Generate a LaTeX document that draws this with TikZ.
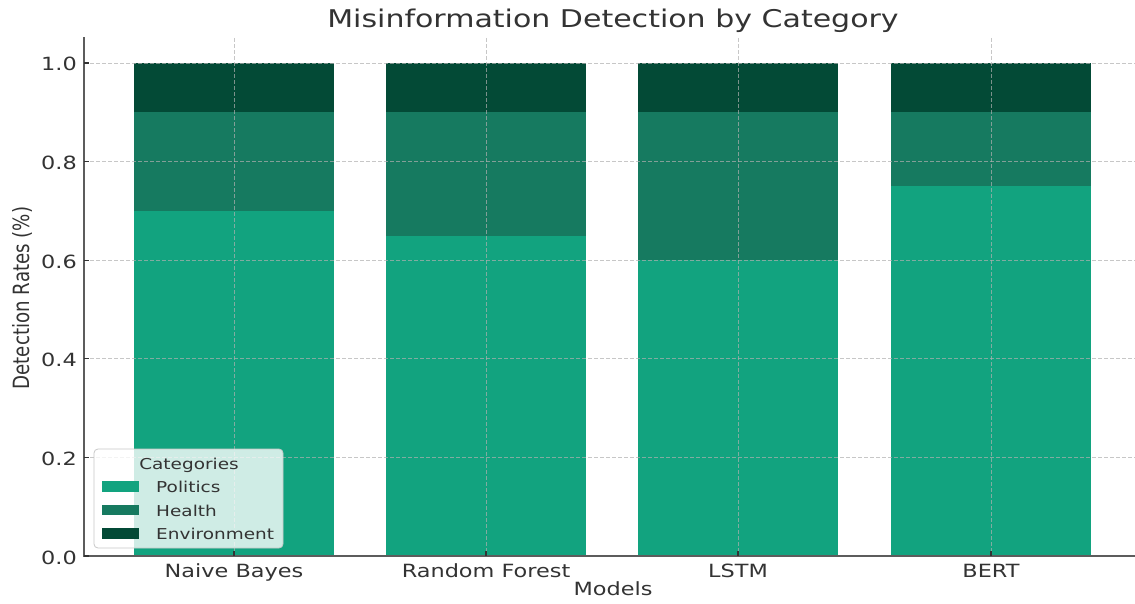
\documentclass[tikz,border=0pt]{standalone}
\usepackage{fontspec}
\setmainfont{DejaVu Sans}
\definecolor{pol}{HTML}{12A37F}
\definecolor{hea}{HTML}{167A60}
\definecolor{env}{HTML}{034A36}
\definecolor{txt}{HTML}{333333}
\definecolor{gridc}{HTML}{B0B0B0}
\tikzset{
  ticklab/.style={text=txt, font=\fontsize{18.2}{20}\selectfont, xscale=1.23, inner sep=0pt},
  leglab/.style={text=txt, font=\fontsize{15}{17}\selectfont, xscale=1.23, inner sep=0pt},
  titlelab/.style={text=txt, font=\fontsize{24.4}{28}\selectfont, xscale=1.23, inner sep=0pt},
  gridline/.style={draw=gridc, line width=0.8pt, dash pattern=on 4pt off 2pt, opacity=0.7},
  spine/.style={draw=txt!80, line cap=rect},
}
\begin{document}
\begin{tikzpicture}[x=1pt,y=-1pt]
\useasboundingbox (0,0) rectangle (1135,604);
\fill[white] (0,0) rectangle (1135,604);
% bars
\foreach \c/\p/\h/\n in {234/0.7/0.2/nb, 486/0.65/0.25/rf, 738/0.6/0.3/ls, 991/0.75/0.15/bt}{
  \fill[pol] ({\c-100},556) rectangle ({\c+100},{556-493*\p});
  \fill[hea] ({\c-100},{556-493*\p}) rectangle ({\c+100},{556-493*(\p+\h)});
  \fill[env] ({\c-100},{556-493*(\p+\h)}) rectangle ({\c+100},63);
}
% grid
\foreach \v in {0.2,0.4,0.6,0.8,1.0}{
  \draw[gridline] (84,{556-493*\v}) -- (1135,{556-493*\v});
}
\foreach \c in {234,486,738,991}{
  \draw[gridline] (\c,38) -- (\c,556);
}
% spines
\draw[spine, line width=2.4pt] (84,38) -- (84,556);
\draw[spine, line width=1.8pt] (84,556) -- (1135,556);
% ticks
\foreach \c/\lab/\n in {234/Naive Bayes/xa, 486/Random Forest/xb, 738/LSTM/xc, 991/BERT/xd}{
  \draw[txt, line width=1.2pt] (\c,556) -- (\c,551);
  \node[ticklab, anchor=base] (\n) at (\c,577) {\lab};
}
\foreach \v/\n in {0.0/ya,0.2/yb,0.4/yc,0.6/yd,0.8/ye,1.0/yf}{
  \draw[txt, line width=1.2pt] (84,{556-493*\v}) -- (89,{556-493*\v});
  \node[ticklab, anchor=base east] (\n) at (77,{556-493*\v+8}) {\v};
}
% axis labels and title
\node[ticklab, anchor=base] (xlabel) at (613,595) {Models};
\node[ticklab, rotate=90] (ylabel) at (22,298) {Detection Rates (\%)};
\node[titlelab, anchor=base] (title) at (613,28) {Misinformation Detection by Category};
% legend
\draw[draw=gridc!70, fill=white, fill opacity=0.8, line width=0.8pt, rounded corners=4pt] (94,449) rectangle (283,548);
\node[leglab, anchor=base] (legtitle) at (189,469) {Categories};
\fill[pol] (102,481) rectangle (139,492);
\fill[hea] (102,505) rectangle (139,515);
\fill[env] (102,528) rectangle (139,539);
\node[leglab, anchor=base west] (lp) at (156,492) {Politics};
\node[leglab, anchor=base west] (lh) at (156,516) {Health};
\node[leglab, anchor=base west] (le) at (156,539) {Environment};
\end{tikzpicture}
\end{document}
